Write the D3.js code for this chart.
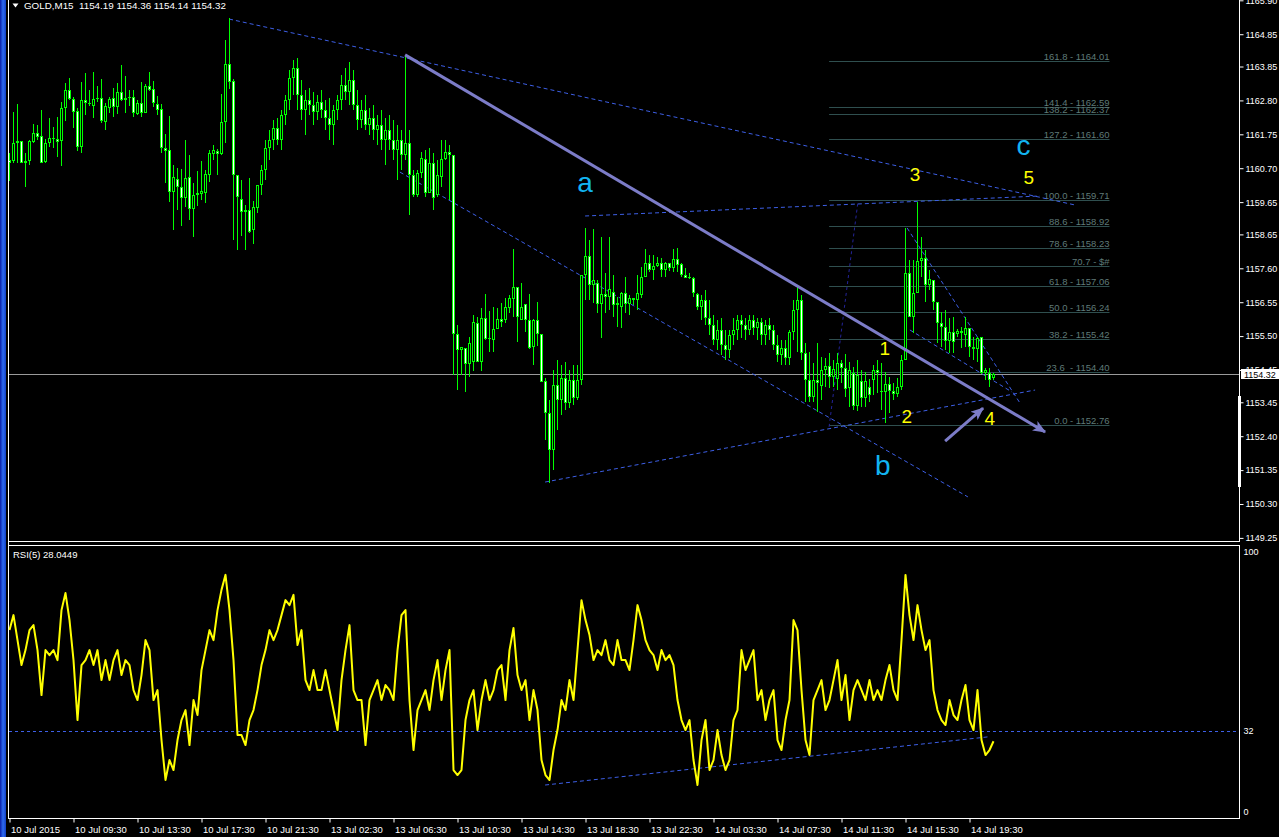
<!DOCTYPE html>
<html><head><meta charset="utf-8">
<script src="https://cdn.jsdelivr.net/npm/d3@7/dist/d3.min.js"></script>
<style>body{margin:0;background:#000;overflow:hidden}svg{display:block}text{font-family:"Liberation Sans",Arial,sans-serif}</style>
</head><body><svg id="c" width="1279" height="837"></svg>
<script>
const opens=[1160.95,1160.92,1161.48,1161.54,1160.86,1160.92,1161.51,1161.79,1161.69,1160.89,
1161.48,1161.63,1161.60,1161.54,1162.56,1163.12,1162.84,1162.47,1161.35,1162.81,
1162.72,1162.62,1162.84,1162.87,1162.13,1162.56,1162.87,1162.59,1163.06,1162.81,
1162.87,1162.90,1162.38,1162.72,1162.41,1163.24,1163.15,1162.69,1162.53,1161.32,
1161.26,1159.96,1160.36,1160.11,1159.77,1160.42,1159.43,1159.86,1159.90,1159.93,
1160.49,1161.14,1161.23,1161.14,1162.13,1163.93,1163.40,1160.48,1159.74,1159.34,
1159.40,1158.78,1159.46,1160.18,1160.64,1161.32,1161.57,1161.94,1161.57,1162.35,
1162.81,1163.49,1163.80,1162.97,1162.50,1162.81,1162.66,1162.44,1162.75,1162.50,
1162.25,1162.04,1162.50,1162.81,1163.28,1163.06,1163.43,1162.66,1162.19,1162.50,
1162.04,1162.25,1161.88,1162.04,1161.57,1161.88,1161.57,1161.26,1161.57,1161.11,
1161.48,1160.49,1159.87,1160.55,1160.98,1159.93,1160.86,1159.87,1160.42,1160.98,
1161.20,1161.11,1155.56,1155.06,1155.12,1154.63,1154.69,1155.90,1154.69,1156.05,
1155.40,1155.37,1155.71,1156.02,1155.99,1156.36,1156.64,1157.01,1155.99,1156.49,
1155.99,1155.15,1155.99,1155.56,1154.10,1153.11,1151.96,1153.98,1153.51,1154.19,
1153.42,1154.13,1153.57,1154.13,1157.39,1157.97,1157.08,1157.14,1156.49,1156.80,
1156.70,1156.86,1156.46,1156.39,1156.83,1156.49,1156.67,1156.61,1156.77,1157.32,
1157.76,1157.54,1157.66,1157.76,1157.54,1157.76,1157.60,1157.88,1157.73,1157.39,
1157.29,1157.29,1156.80,1156.39,1156.61,1156.05,1155.84,1155.37,1155.68,1155.22,
1155.06,1155.53,1155.68,1155.99,1155.84,1155.68,1155.99,1155.74,1155.93,1155.53,
1155.84,1155.68,1155.22,1154.91,1155.12,1154.81,1155.62,1156.30,1156.61,1154.97,
1154.13,1153.60,1154.13,1153.94,1154.44,1154.56,1154.22,1154.16,1154.66,1154.50,
1153.88,1154.35,1153.32,1154.10,1153.57,1153.91,1154.13,1154.44,1153.79,1153.76,
1154.01,1153.79,1153.70,1153.91,1154.75,1157.45,1156.08,1156.83,1157.82,1157.91,
1157.08,1157.23,1156.55,1155.90,1155.77,1155.34,1155.62,1155.56,1155.65,1155.53,
1155.74,1155.15,1155.09,1155.46,1154.35,1154.35,1154.19];
const highs=[1161.17,1162.44,1162.69,1161.54,1161.17,1161.57,1162.07,1162.04,1162.50,1161.60,
1162.25,1161.97,1162.28,1162.75,1163.34,1163.49,1162.90,1162.56,1163.37,1163.65,
1163.12,1163.68,1163.24,1163.46,1162.72,1162.90,1163.18,1163.34,1163.90,1163.55,
1163.12,1163.12,1162.81,1163.37,1163.31,1163.68,1163.40,1162.93,1162.69,1161.76,
1162.31,1160.80,1160.70,1160.67,1161.57,1161.10,1160.24,1160.61,1160.92,1160.64,
1161.26,1161.41,1161.29,1162.99,1164.67,1165.35,1163.46,1160.48,1160.33,1159.56,
1160.39,1159.68,1160.17,1160.80,1161.57,1161.88,1162.19,1162.25,1162.50,1162.97,
1163.74,1164.05,1164.11,1163.43,1163.12,1163.18,1163.06,1162.97,1163.12,1162.81,
1162.87,1162.66,1162.97,1163.59,1163.80,1163.99,1163.74,1163.12,1162.81,1162.97,
1162.56,1162.66,1162.35,1162.50,1162.25,1162.35,1162.19,1162.04,1161.88,1164.21,
1161.88,1160.64,1160.64,1161.20,1161.26,1161.32,1161.17,1160.95,1161.57,1161.57,
1161.42,1161.11,1155.84,1155.15,1155.12,1155.46,1156.15,1156.08,1156.36,1156.80,
1156.27,1156.39,1156.36,1156.52,1156.67,1156.77,1158.19,1157.01,1157.14,1156.49,
1156.80,1156.02,1156.55,1155.56,1154.19,1153.51,1154.44,1154.75,1154.60,1154.69,
1154.44,1154.60,1154.60,1157.39,1158.84,1158.47,1158.81,1157.23,1158.56,1157.45,
1158.56,1157.39,1156.70,1156.86,1157.32,1156.77,1156.67,1157.39,1157.63,1158.19,
1158.01,1158.01,1157.94,1157.91,1157.79,1157.76,1158.19,1158.22,1157.76,1157.60,
1157.45,1157.32,1156.83,1156.77,1156.92,1156.61,1156.15,1155.99,1156.05,1155.68,
1155.68,1156.05,1156.15,1156.15,1156.05,1156.15,1156.15,1156.05,1156.05,1155.99,
1156.05,1155.84,1155.53,1155.37,1155.37,1155.68,1156.61,1157.01,1156.77,1155.28,
1155.00,1154.66,1155.28,1154.84,1154.81,1154.97,1154.75,1154.97,1154.75,1154.94,
1154.69,1154.53,1154.75,1154.44,1154.38,1154.16,1154.60,1154.75,1154.66,1154.38,
1154.22,1154.04,1154.19,1154.91,1158.84,1157.85,1157.85,1159.65,1158.56,1158.16,
1157.54,1157.23,1156.55,1156.24,1156.30,1156.05,1156.08,1155.71,1155.77,1156.08,
1155.74,1155.46,1155.46,1155.46,1154.50,1154.50,1154.36];
const lows=[1160.30,1160.86,1160.86,1160.86,1160.11,1160.80,1161.48,1161.57,1160.86,1160.86,
1161.35,1161.32,1161.04,1160.76,1162.16,1162.81,1161.94,1161.23,1161.17,1162.35,
1162.62,1162.25,1162.75,1162.10,1161.88,1162.41,1162.28,1162.38,1162.78,1162.41,
1162.62,1162.28,1162.35,1162.28,1162.41,1163.09,1162.59,1162.35,1161.17,1160.24,
1159.65,1158.78,1159.40,1158.90,1159.49,1159.09,1158.56,1159.52,1159.71,1159.62,
1160.27,1160.95,1160.49,1161.10,1161.48,1163.15,1158.47,1158.16,1158.59,1158.16,
1158.69,1158.35,1159.31,1159.87,1160.33,1160.95,1161.26,1161.42,1161.26,1162.04,
1162.50,1162.97,1162.50,1162.19,1161.73,1162.35,1162.04,1162.19,1162.25,1161.88,
1161.57,1161.42,1162.19,1162.50,1162.81,1162.66,1162.50,1161.88,1161.94,1161.88,
1161.73,1161.57,1161.42,1161.26,1160.80,1161.26,1160.95,1160.33,1160.64,1160.95,
1159.25,1159.80,1159.80,1160.39,1159.80,1159.93,1159.40,1159.80,1160.11,1160.95,
1159.71,1154.29,1153.82,1154.29,1153.76,1154.22,1154.41,1154.69,1154.41,1155.37,
1155.00,1155.00,1155.71,1155.77,1155.90,1156.21,1156.08,1155.31,1155.99,1155.62,
1155.09,1154.60,1155.18,1154.07,1152.27,1150.94,1151.34,1152.58,1153.05,1153.20,
1153.26,1153.36,1153.51,1153.98,1156.61,1156.61,1156.52,1156.21,1155.43,1156.21,
1156.30,1156.08,1155.77,1155.74,1156.21,1156.15,1156.46,1156.30,1156.67,1157.32,
1157.48,1157.23,1157.63,1157.32,1157.32,1157.51,1157.48,1157.48,1157.32,1157.29,
1157.26,1156.70,1156.30,1155.99,1155.84,1155.53,1155.22,1155.06,1154.91,1154.75,
1154.81,1155.22,1155.37,1155.43,1155.37,1155.53,1155.53,1155.37,1155.22,1155.22,
1155.37,1155.06,1154.69,1154.60,1154.60,1154.60,1155.37,1155.00,1154.75,1153.45,
1153.45,1153.45,1153.14,1153.51,1153.91,1153.88,1153.91,1153.82,1154.04,1153.60,
1153.29,1153.20,1153.17,1153.29,1153.29,1153.45,1153.67,1153.73,1153.20,1152.80,
1153.11,1153.51,1153.60,1153.82,1154.75,1156.08,1155.59,1156.83,1157.32,1156.55,
1156.92,1156.30,1155.28,1155.15,1155.06,1154.97,1154.97,1155.46,1155.12,1155.15,
1154.84,1154.75,1154.69,1154.32,1154.13,1153.91,1154.14];
const closes=[1160.86,1161.48,1161.54,1160.86,1160.92,1161.54,1161.79,1161.66,1160.86,1161.48,
1161.63,1161.60,1161.51,1162.56,1163.12,1162.84,1162.44,1161.35,1162.81,1162.72,
1162.69,1162.84,1162.87,1162.16,1162.62,1162.84,1162.59,1163.06,1162.81,1162.87,
1162.90,1162.41,1162.72,1162.41,1163.24,1163.12,1162.72,1162.50,1161.32,1161.23,
1159.96,1160.42,1160.11,1159.77,1160.39,1159.43,1159.86,1159.93,1159.99,1160.52,
1161.17,1161.26,1161.14,1162.13,1163.93,1163.37,1160.48,1159.80,1159.34,1159.40,
1158.72,1159.49,1160.17,1160.64,1161.32,1161.57,1161.94,1161.57,1162.35,1162.81,
1163.49,1163.80,1162.97,1162.50,1162.81,1162.66,1162.44,1162.75,1162.50,1162.25,
1162.04,1162.50,1162.81,1163.28,1163.06,1163.43,1162.66,1162.19,1162.50,1162.04,
1162.25,1161.88,1162.04,1161.57,1161.88,1161.57,1161.26,1161.57,1161.11,1161.48,
1160.49,1159.87,1160.55,1161.01,1159.93,1160.86,1159.77,1160.49,1160.98,1161.20,
1161.11,1155.56,1155.06,1155.15,1154.63,1155.28,1155.93,1154.69,1156.05,1155.40,
1155.43,1155.71,1156.02,1155.93,1156.39,1156.67,1157.01,1156.08,1156.39,1155.99,
1155.12,1155.99,1155.56,1154.07,1153.11,1151.96,1153.98,1153.51,1154.19,1153.42,
1154.13,1153.57,1154.13,1157.39,1157.97,1157.08,1157.23,1156.49,1156.80,1156.70,
1156.95,1156.46,1156.52,1156.83,1156.49,1156.67,1156.61,1156.83,1157.32,1157.76,
1157.54,1157.66,1157.76,1157.54,1157.76,1157.60,1157.88,1157.70,1157.39,1157.29,
1157.32,1156.83,1156.39,1156.61,1156.05,1155.84,1155.37,1155.68,1155.22,1155.06,
1155.53,1155.68,1155.99,1155.84,1155.68,1155.99,1155.74,1155.93,1155.53,1155.84,
1155.68,1155.22,1154.91,1155.12,1154.81,1155.62,1156.30,1156.61,1154.97,1154.13,
1153.60,1154.13,1154.04,1154.44,1154.56,1154.22,1154.47,1154.66,1154.50,1153.85,
1154.44,1153.32,1154.29,1153.57,1154.10,1153.67,1154.44,1154.35,1153.76,1154.01,
1153.79,1153.70,1153.91,1154.75,1157.45,1156.08,1156.83,1157.82,1157.91,1157.08,
1157.26,1156.55,1155.90,1155.77,1155.34,1155.62,1155.31,1155.65,1155.59,1155.74,
1155.15,1155.09,1155.43,1154.35,1154.44,1154.13,1154.32];
const rsiValues=[70.3,76.0,66.5,57.0,62.7,70.3,72.2,62.7,45.6,62.7,
60.8,62.7,58.9,77.9,84.4,74.1,58.9,36.1,57.0,58.9,
62.7,57.0,62.7,51.3,58.9,51.3,58.9,62.7,53.2,58.9,
57.0,47.5,43.7,53.2,66.5,62.7,43.7,47.5,28.5,13.3,
20.9,17.1,28.5,36.1,39.9,26.6,43.7,38.0,55.1,62.7,
70.3,66.5,77.9,85.6,91.3,77.9,58.9,30.4,30.4,26.6,
36.1,39.9,47.5,57.0,62.7,70.3,66.5,70.3,76.0,81.7,
79.8,83.7,64.6,70.3,51.3,47.5,55.1,47.5,47.5,55.1,
47.5,39.9,32.3,51.3,62.7,72.2,47.5,43.7,43.7,26.6,
43.7,47.5,51.3,43.7,49.4,47.5,43.7,62.7,76.0,77.9,
43.7,24.7,39.9,43.7,47.5,39.9,51.3,58.9,43.7,55.1,
62.7,17.1,15.2,17.1,36.1,43.7,47.5,32.3,43.7,51.3,
43.7,47.5,55.1,57.0,43.7,62.7,71.1,53.2,47.5,51.3,
36.1,47.5,39.9,20.9,15.2,13.3,24.7,32.3,43.7,39.9,
51.3,43.7,62.7,81.7,74.1,68.4,58.9,62.7,60.8,66.5,
58.9,57.0,66.5,58.9,58.9,55.1,66.5,79.8,74.1,66.5,
62.7,60.8,55.1,62.7,58.9,60.8,57.0,43.7,36.1,32.3,
36.1,20.9,11.4,28.5,36.1,17.1,20.9,32.3,22.8,17.1,
20.9,36.1,39.9,62.7,55.1,58.9,62.7,43.7,47.5,36.1,
43.7,47.5,28.5,24.7,36.1,43.7,74.1,70.3,47.5,28.5,
22.8,43.7,47.5,51.3,39.9,43.7,51.3,58.9,43.7,53.2,
36.1,47.5,51.3,47.5,43.7,51.3,43.7,47.5,43.7,51.3,
57.0,47.5,43.7,66.5,91.3,76.0,66.5,79.8,70.3,62.7,
66.5,47.5,39.9,36.1,34.2,43.7,38.0,36.1,43.7,49.4,
36.1,32.3,47.5,28.5,22.8,24.7,28.04];
const timeLabels=["10 Jul 2015","10 Jul 09:30","10 Jul 13:30","10 Jul 17:30","10 Jul 21:30","13 Jul 02:30","13 Jul 06:30","13 Jul 10:30","13 Jul 14:30","13 Jul 18:30","13 Jul 22:30","14 Jul 03:30","14 Jul 07:30","14 Jul 11:30","14 Jul 15:30","14 Jul 19:30"];
const priceTicks=[1165.90,1164.85,1163.85,1162.80,1161.75,1160.70,1159.65,1158.65,1157.60,1156.55,1155.50,1154.45,1153.45,1152.40,1151.35,1150.30,1149.25];
const rsiTicks=[100,32,0];
const rsiLevel=32;
const fibLevels=[161.8,141.4,138.2,127.2,100.0,88.6,78.6,70.7,61.8,50.0,38.2,23.6,0.0];
const fibPrices=[1164.01,1162.59,1162.37,1161.60,1159.71,1158.92,1158.23,1157.67,1157.06,1156.24,1155.42,1154.40,1152.76];
const fibTexts=["161.8 - 1164.01","141.4 - 1162.59","138.2 - 1162.37","127.2 - 1161.60","100.0 - 1159.71","88.6 - 1158.92","78.6 - 1158.23","70.7 - $#","61.8 - 1157.06","50.0 - 1156.24","38.2 - 1155.42","23.6  - 1154.40","0.0 - 1152.76"];
const fibRange=[204.9,275];
const dashedLines=[
 [[54.9,1165.32],[266.4,1159.56]],
 [[97.6,1160.58],[239.6,1150.52]],
 [[133.9,1150.98],[256.4,1153.83]],
 [[143.9,1159.22],[257.6,1159.84]],
 [[224.4,1158.85],[252.6,1153.43]],
 [[225.1,1155.69],[250.6,1153.77]]
];
const fibConnector=[[204.9,1152.69],[212.1,1159.65]];
const purpleArrows=[[[98.9,1164.21],[258.9,1152.53]],[[233.9,1152.25],[243.4,1153.27]]];
const rsiTrend=[[133.9,11.4],[244.6,29.7]];
const waveLetters=[["a",143.9,1159.96],["b",218.3,1151.20],["c",253.5,1161.11]];
const waveNumbers=[["3",226.4,1160.30],["5",254.8,1160.21],["1",218.8,1154.92],["2",224.3,1152.81],["4",245.1,1152.75]];
const headerText="GOLD,M15  1154.19 1154.36 1154.14 1154.32";
const rsiText="RSI(5) 28.0449";
const lastPrice=1154.32;

const svg=d3.select('#c');
const n=opens.length;
const x=d3.scaleLinear().domain([0,n-1]).range([9.5,9.5+4*(n-1)]);
const y=d3.scaleLinear().domain([1165.91,1149.25]).range([0,537.9]);
const yr=d3.scaleLinear().domain([100,0]).range([552,815]);

svg.append('rect').attr('width',1279).attr('height',837).attr('fill','#000');
const grad=svg.append('defs').append('linearGradient').attr('id','lg').attr('x1',0).attr('x2',1);
grad.append('stop').attr('offset','0').attr('stop-color','#0a1ea8');
grad.append('stop').attr('offset','0.5').attr('stop-color','#2f6cf0');
grad.append('stop').attr('offset','1').attr('stop-color','#1240c8');
svg.append('rect').attr('x',0).attr('y',0).attr('width',6).attr('height',837).attr('fill','url(#lg)');

const main=svg.append('g');
fibPrices.forEach((p,i)=>{
  const yy=Math.round(y(p))+0.5;
  main.append('line').attr('x1',x(fibRange[0])).attr('x2',x(fibRange[1])).attr('y1',yy).attr('y2',yy).attr('stroke','#2f4f4f');
  main.append('text').attr('x',x(fibRange[1])).attr('y',yy-2).attr('text-anchor','end').attr('font-size',9.5).attr('fill','#5f7a78').style('white-space','pre').text(fibTexts[i]);
});
main.append('line').attr('x1',8).attr('x2',1239).attr('y1',Math.round(y(lastPrice))+0.5).attr('y2',Math.round(y(lastPrice))+0.5).attr('stroke','#9a9a9a');
dashedLines.forEach(l=>{
  main.append('line').attr('x1',x(l[0][0])).attr('y1',y(l[0][1])).attr('x2',x(l[1][0])).attr('y2',y(l[1][1]))
   .attr('stroke','#3d5fe6').attr('stroke-dasharray','4,3');
});
main.append('line').attr('x1',x(fibConnector[0][0])).attr('y1',y(fibConnector[0][1])).attr('x2',x(fibConnector[1][0])).attr('y2',y(fibConnector[1][1]))
  .attr('stroke','#24249a').attr('stroke-dasharray','3,3');

const cg=main.append('g');
for(let i=0;i<n;i++){
  const cx=x(i);
  const hy=Math.round(y(highs[i])), ly=Math.round(y(lows[i]));
  cg.append('rect').attr('x',cx-0.5).attr('y',hy).attr('width',1).attr('height',Math.max(1,ly-hy)).attr('fill','#00ff00');
  const top=Math.round(y(Math.max(opens[i],closes[i]))), bot=Math.round(y(Math.min(opens[i],closes[i])));
  const h=Math.max(1,bot-top);
  cg.append('rect').attr('x',cx-1.5).attr('y',top).attr('width',3).attr('height',h).attr('fill','#00ff00');
  if(h>2){
    cg.append('rect').attr('x',cx-0.5).attr('y',top+1).attr('width',1).attr('height',h-2)
      .attr('fill',closes[i]>=opens[i]?'#000':'#ffffff');
  }
}
const defs=svg.select('defs');
defs.append('marker').attr('id','ah').attr('viewBox','0 0 12 10').attr('refX',11).attr('refY',5)
 .attr('markerWidth',14).attr('markerHeight',11).attr('markerUnits','userSpaceOnUse').attr('orient','auto')
 .append('path').attr('d','M0,0 L12,5 L0,10 L3,5 Z').attr('fill','#7c7cc8');
purpleArrows.forEach(l=>{
  main.append('line').attr('x1',x(l[0][0])).attr('y1',y(l[0][1])).attr('x2',x(l[1][0])).attr('y2',y(l[1][1]))
   .attr('stroke','#7c7cc8').attr('stroke-width',3).attr('marker-end','url(#ah)');
});
waveLetters.forEach(d=>{
  main.append('text').attr('x',x(d[1])).attr('y',y(d[2])).attr('text-anchor','middle').attr('font-size',28).attr('fill','#12b4f0').text(d[0]);
});
waveNumbers.forEach(d=>{
  main.append('text').attr('x',x(d[1])).attr('y',y(d[2])).attr('text-anchor','middle').attr('font-size',19).attr('fill','#ffff00').text(d[0]);
});

const ya=svg.append('g').attr('transform','translate(1239.5,0)')
 .call(d3.axisRight(y).tickValues(priceTicks).tickFormat(d3.format('.2f')).tickSize(4).tickPadding(2));
ya.select('.domain').remove();
ya.selectAll('line').attr('stroke','#fff');
ya.selectAll('text').attr('fill','#fff').attr('font-size',9).attr('font-family','Liberation Sans, Arial, sans-serif');
const ly0=Math.round(y(lastPrice));
svg.append('rect').attr('x',1241).attr('y',ly0-5).attr('width',38).attr('height',10).attr('fill','#fff');
svg.append('text').attr('x',1244).attr('y',ly0+3.5).attr('font-size',9).attr('fill','#000').text(d3.format('.2f')(lastPrice));

const fr=svg.append('g').attr('stroke','#fff').attr('fill','none');
fr.append('line').attr('x1',8.5).attr('x2',8.5).attr('y1',0).attr('y2',819);
fr.append('line').attr('x1',1239.5).attr('x2',1239.5).attr('y1',0).attr('y2',542);
fr.append('line').attr('x1',8).attr('x2',1240).attr('y1',541.5).attr('y2',541.5);
fr.append('rect').attr('x',8.5).attr('y',545.5).attr('width',1231).attr('height',273);
svg.append('rect').attr('x',1238).attr('y',396).attr('width',3).attr('height',91).attr('fill','#fff');

svg.append('line').attr('x1',9).attr('x2',1239).attr('y1',Math.round(yr(rsiLevel))+0.5).attr('y2',Math.round(yr(rsiLevel))+0.5)
 .attr('stroke','#3d5fe6').attr('stroke-dasharray','3,3');
svg.append('line').attr('x1',x(rsiTrend[0][0])).attr('y1',yr(rsiTrend[0][1])).attr('x2',x(rsiTrend[1][0])).attr('y2',yr(rsiTrend[1][1]))
 .attr('stroke','#3d5fe6').attr('stroke-dasharray','4,3');
svg.append('path').datum(rsiValues).attr('fill','none').attr('stroke','#ffff00').attr('stroke-width',2).attr('stroke-linejoin','round')
 .attr('d',d3.line().x((d,i)=>x(i)).y(d=>yr(d)));
const ra=svg.append('g').attr('transform','translate(1239.5,0)')
 .call(d3.axisRight(yr).tickValues(rsiTicks).tickFormat(d3.format('d')).tickSize(0).tickPadding(4));
ra.select('.domain').remove();
ra.selectAll('text').attr('fill','#fff').attr('font-size',9).attr('font-family','Liberation Sans, Arial, sans-serif')
 .attr('transform',d=>d===0?'translate(0,-3)':null);
svg.append('text').attr('x',13).attr('y',558).attr('font-size',9.5).attr('fill','#fff').text(rsiText);

const xa=svg.append('g').attr('transform','translate(0,818.5)')
 .call(d3.axisBottom(x).tickValues(d3.range(0,n,16)).tickFormat((d,i)=>timeLabels[i]).tickSize(4).tickPadding(0));
xa.select('.domain').attr('stroke','#fff').attr('d','M8,0H1240');
xa.selectAll('line').attr('stroke','#fff');
xa.selectAll('text').attr('fill','#fff').attr('font-size',9.5).attr('font-family','Liberation Sans, Arial, sans-serif')
 .attr('text-anchor','start').attr('dx',1).attr('y',8).attr('dy','0.71em');

svg.append('path').attr('d','M12.5,3.5 L18.5,3.5 L15.5,7.5 Z').attr('fill','#fff');
svg.append('text').attr('x',24).attr('y',9).attr('font-size',9.8).attr('fill','#fff').style('white-space','pre').text(headerText);
</script></body></html>
